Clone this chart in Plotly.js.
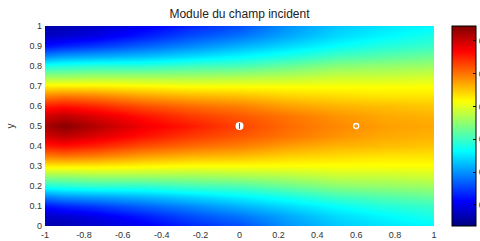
<!DOCTYPE html>
<html>
<head>
<meta charset="utf-8">
<script src="https://cdn.plot.ly/plotly-3.0.1.min.js"></script>
<style>
html,body{margin:0;padding:0;background:#fff;overflow:hidden;width:480px;height:241px;}
#chart{width:510px;height:241px;}
</style>
</head>
<body>
<div id="chart"></div>
<script>
// x positions of sampled columns
var xCols = [-1, -0.9, -0.75, -0.5, -0.25, 0, 0.25, 0.5, 0.75, 1];
// y positions of sampled rows
var yRows = [0,0.05,0.1,0.15,0.2,0.25,0.3,0.35,0.4,0.45,0.5,0.55,0.6,0.65,0.7,0.75,0.8,0.85,0.9,0.95,1];
// field modulus read per column (from y=0 to y=1)
var colXm100 = [0.060,0.079,0.121,0.194,0.280,0.353,0.426,0.493,0.554,0.596,0.621,0.596,0.554,0.493,0.426,0.353,0.280,0.194,0.121,0.079,0.060];
var colXm090 = [0.066,0.085,0.133,0.207,0.286,0.353,0.426,0.499,0.560,0.608,0.639,0.608,0.560,0.499,0.426,0.353,0.286,0.207,0.133,0.085,0.066];
var colXm075 = [0.079,0.097,0.146,0.213,0.292,0.359,0.426,0.493,0.548,0.590,0.615,0.590,0.548,0.493,0.426,0.359,0.292,0.213,0.146,0.097,0.079];
var colXm050 = [0.103,0.127,0.170,0.225,0.292,0.359,0.420,0.474,0.523,0.560,0.578,0.560,0.523,0.474,0.420,0.359,0.292,0.225,0.170,0.127,0.103];
var colXm025 = [0.133,0.158,0.194,0.243,0.304,0.359,0.414,0.462,0.505,0.535,0.554,0.535,0.505,0.462,0.414,0.359,0.304,0.243,0.194,0.158,0.133];
var colX000  = [0.158,0.182,0.219,0.261,0.310,0.365,0.414,0.456,0.493,0.517,0.529,0.517,0.493,0.456,0.414,0.365,0.310,0.261,0.219,0.182,0.158];
var colX025  = [0.200,0.213,0.243,0.280,0.328,0.371,0.414,0.444,0.474,0.499,0.505,0.499,0.474,0.444,0.414,0.371,0.328,0.280,0.243,0.213,0.200];
var colX050  = [0.231,0.243,0.267,0.304,0.347,0.383,0.414,0.438,0.462,0.481,0.487,0.481,0.462,0.438,0.414,0.383,0.347,0.304,0.267,0.243,0.231];
var colX075  = [0.249,0.261,0.286,0.316,0.353,0.383,0.414,0.432,0.456,0.468,0.474,0.468,0.456,0.432,0.414,0.383,0.353,0.316,0.286,0.261,0.249];
var colX100  = [0.261,0.280,0.298,0.328,0.359,0.389,0.414,0.432,0.450,0.462,0.468,0.462,0.450,0.432,0.414,0.389,0.359,0.328,0.298,0.280,0.261];
// point markers
var ptX = [0, 0.6];
var ptY = [0.5, 0.5];
// colorbar ticks
var cbTicks = [0.1, 0.2, 0.3, 0.4, 0.5, 0.6];
var xTicks = [-1,-0.8,-0.6,-0.4,-0.2,0,0.2,0.4,0.6,0.8,1];
var yTicks = [0,0.1,0.2,0.3,0.4,0.5,0.6,0.7,0.8,0.9,1];

var cols = [colXm100,colXm090,colXm075,colXm050,colXm025,colX000,colX025,colX050,colX075,colX100];
var z = yRows.map(function(_, r){ return cols.map(function(c){ return c[r]; }); });

var jet = [[0,'rgb(0,0,128)'],[0.125,'rgb(0,0,255)'],[0.375,'rgb(0,255,255)'],[0.625,'rgb(255,255,0)'],[0.875,'rgb(255,0,0)'],[1,'rgb(128,0,0)']];

var traces = [
 {type:'heatmap', x:xCols, y:yRows, z:z, zsmooth:'best', colorscale:jet, zmin:0.036, zmax:0.645,
  colorbar:{x:1.046, xanchor:'left', xpad:0, y:0.5, yanchor:'middle', len:1, lenmode:'fraction', ypad:0,
    thickness:24, thicknessmode:'pixels', outlinecolor:'#000', outlinewidth:1,
    tickvals:cbTicks, ticks:'inside', ticklen:3, tickcolor:'#000',
    tickfont:{family:'Liberation Sans, Arial, sans-serif', size:9, color:'#333'}}},
 {type:'scatter', mode:'markers', x:[ptX[0]], y:[ptY[0]], showlegend:false, hoverinfo:'skip',
  marker:{symbol:'circle', size:8, color:'#ffffff', line:{width:0}}},
 {type:'scatter', mode:'markers', x:[ptX[0]], y:[ptY[0]], showlegend:false, hoverinfo:'skip',
  marker:{symbol:'line-ns', size:4, color:'#556', line:{width:1, color:'#556'}}},
 {type:'scatter', mode:'markers', x:[ptX[1]], y:[ptY[1]], showlegend:false, hoverinfo:'skip',
  marker:{symbol:'circle-open', size:5, color:'#ffffff', line:{width:1.3, color:'#ffffff'}}}
];

var font = {family:'Liberation Sans, Arial, sans-serif', size:9, color:'#333'};
var layout = {
  width:510, height:241,
  margin:{l:45, r:76, t:26, b:15, pad:0},
  paper_bgcolor:'#fff', plot_bgcolor:'#fff',
  font:font,
  showlegend:false,
  title:{text:'Module du champ incident', x:0.5, xref:'paper', xanchor:'center', y:0.942, yanchor:'middle',
    font:{family:'Liberation Sans, Arial, sans-serif', size:12, color:'#222'}},
  xaxis:{range:[-1,1], tickvals:xTicks, ticktext:xTicks.map(String), ticks:'', showgrid:false, zeroline:false,
    showline:false, tickfont:font, automargin:false, ticklabelstandoff:2},
  yaxis:{range:[0,1], tickvals:yTicks, ticktext:yTicks.map(String), ticks:'', showgrid:false, zeroline:false,
    showline:false, tickfont:font, automargin:false, ticklabelstandoff:2,
    title:{text:'y', standoff:12, font:{family:'Liberation Sans, Arial, sans-serif', size:10, color:'#333'}}}
};
Plotly.newPlot('chart', traces, layout, {staticPlot:true, displayModeBar:false});
</script>
</body>
</html>
